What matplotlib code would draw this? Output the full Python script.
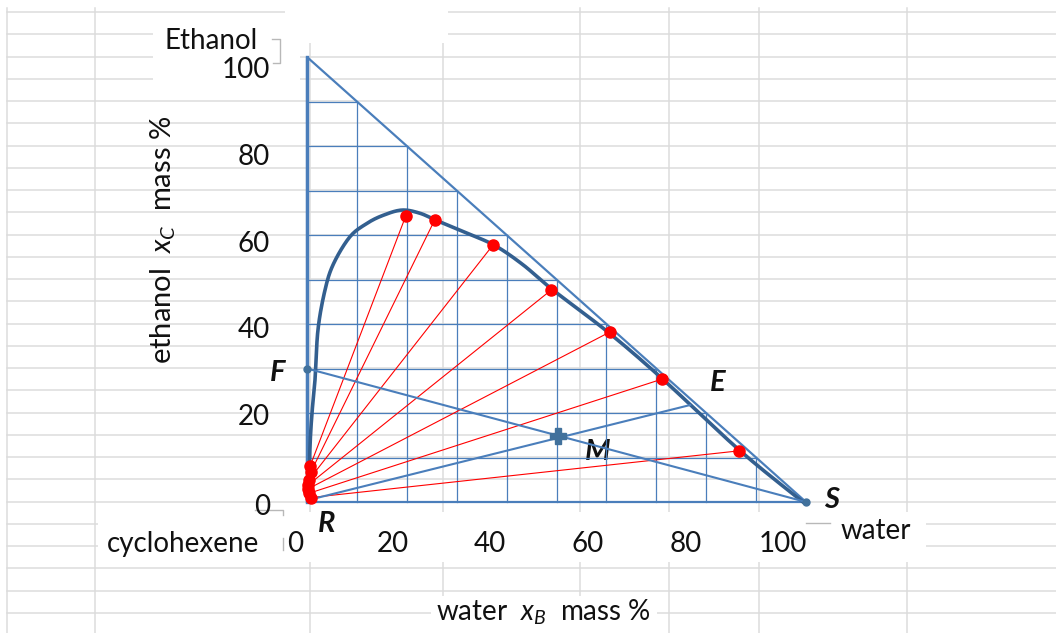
import matplotlib
matplotlib.use("Agg")
import matplotlib.pyplot as plt
import numpy as np
from matplotlib.patches import Rectangle

plt.rcParams['font.family'] = ['Lato', 'DejaVu Sans']
plt.rcParams['mathtext.fontset'] = 'custom'
plt.rcParams['mathtext.rm'] = 'Lato'
plt.rcParams['mathtext.it'] = 'Lato:italic'

# ---------------- data (mass %) ----------------
# binodal curve: x = water, y = ethanol
binodal_x = [0.3, 0.4, 0.6, 1.0, 1.6, 2.2, 3.6, 5.3, 8.6, 12.0, 15.2, 19.0,
             22.6, 26.1, 32.1, 37.7, 43.3, 49.1, 60.3, 71.3, 86.8, 99.4]
binodal_y = [0.8, 2.0, 12.4, 20.0, 27.4, 38.7, 47.6, 53.5, 59.6, 62.6, 64.4, 65.6,
             64.9, 63.2, 60.4, 57.6, 53.3, 47.8, 38.2, 27.6, 11.5, 0.0]

# tie lines: extract-phase end (E) and raffinate-phase end (R)
tie_ext_x = [19.8, 25.6, 37.3, 48.9, 60.7, 71.1, 86.6]
tie_ext_y = [64.3, 63.4, 57.8, 47.6, 38.2, 27.6, 11.5]
tie_raf_x = [0.6, 0.8, 0.4, 0.2, 0.3, 0.5, 0.8]
tie_raf_y = [8.0, 6.8, 5.0, 3.8, 3.0, 2.0, 1.0]

# operating points
F_pt = (0.0, 30.0)
S_pt = (100.0, 0.0)
M_pt = (50.3, 14.8)
R_pt = (0.5, 0.5)
E_pt = (76.8, 21.8)

tick_values = [0, 20, 40, 60, 80, 100]
tick_labels = ['0', '20', '40', '60', '80', '100']
grid_values = [10, 20, 30, 40, 50, 60, 70, 80, 90]


def smooth(xs, ys, n=12):
    """Catmull-Rom rendering of a polyline (drawing only, like Excel's smoothed line)."""
    p = np.column_stack([xs, ys]).astype(float)
    p = np.vstack([p[0], p, p[-1]])
    out = []
    t = np.linspace(0, 1, n, endpoint=False)[:, None]
    for i in range(1, len(p) - 2):
        p0, p1, p2, p3 = p[i - 1], p[i], p[i + 1], p[i + 2]
        seg = 0.5 * ((2 * p1) + (-p0 + p2) * t + (2 * p0 - 5 * p1 + 4 * p2 - p3) * t ** 2
                     + (-p0 + 3 * p1 - 3 * p2 + p3) * t ** 3)
        out.append(seg)
    out.append(p[-2][None, :])
    out = np.vstack(out)
    return out[:, 0], out[:, 1]


# ---------------- figure ----------------
W, H = 1056, 633
fig = plt.figure(figsize=(W / 100, H / 100), dpi=100)
fig.patch.set_facecolor('white')

# background "spreadsheet" axes in pixel coordinates
bg = fig.add_axes([0, 0, 1, 1])
bg.set_xlim(0, W)
bg.set_ylim(H, 0)
bg.axis('off')

gray = '#dcdcdc'
rows = [12 + 22.25 * k for k in range(28)]
cols = [7, 95, 310, 443, 580, 669, 759, 907]
for yr in rows:
    bg.plot([7, W], [yr, yr], color=gray, lw=1.1, zorder=1)
for xc in cols:
    bg.plot([xc, xc], [8, H], color=gray, lw=1.1, zorder=1)

# white text boxes hiding the sheet grid
for (x0, y0, w, h) in [(153, 22, 147, 68), (285, 0, 163, 43),
                       (98, 512, 828, 50), (431, 596, 226, 37)]:
    bg.add_patch(Rectangle((x0, y0), w, h, facecolor='white', edgecolor='none', zorder=2))

# small gray box-corner brackets
bc = '#b8b8b8'
bg.plot([272, 280, 280, 273], [39, 39, 63, 63], color=bc, lw=1.0, zorder=3)
bg.plot([255, 283, 283], [510, 510, 515], color=bc, lw=1.0, zorder=3)
bg.plot([283, 283], [538, 550], color=bc, lw=1.0, zorder=3)
bg.plot([806, 830], [523, 523], color=bc, lw=1.0, zorder=3)

fs = 20
txt = '#111111'
bg.text(211, 41, 'Ethanol', fontsize=fs, ha='center', va='center', color=txt, zorder=4)
for v, lab in zip(tick_values, tick_labels):
    yy = 507 if v == 0 else 503.5 - 4.33 * v
    bg.text(270, yy, lab, fontsize=fs, ha='right', va='center', color=txt, zorder=4)
    bg.text(295 + 4.88 * v, 544, lab, fontsize=fs, ha='center', va='center', color=txt, zorder=4)
bg.text(259, 544, 'cyclohexene', fontsize=fs, ha='right', va='center', color=txt, zorder=4)
bg.text(876, 531, 'water', fontsize=fs, ha='center', va='center', color=txt, zorder=4)
bg.text(543, 612, 'water  $x_B$  mass %', fontsize=fs, ha='center', va='center', color=txt, zorder=4)
bg.text(163, 240, 'ethanol  $x_C$  mass %', fontsize=fs + 1, ha='center', va='center',
        rotation=90, color=txt, zorder=4)

# ---------------- ternary (right triangle) axes ----------------
ax = fig.add_axes([307 / W, (H - 502) / H, (806 - 307) / W, (502 - 57) / H])
ax.set_xlim(0, 100)
ax.set_ylim(0, 100)
ax.axis('off')
ax.patch.set_alpha(0)

blue = '#4a7ebb'
dark = '#335f8f'
red = '#ff0000'

# triangle frame
ax.plot([0, 0, 100, 0], [0, 100, 0, 0], color=blue, lw=1.6, clip_on=False, zorder=3)
ax.plot([0, 0], [0, 100], color=blue, lw=2.4, clip_on=False, zorder=3)
# inner grid
for g in grid_values:
    ax.plot([g, g], [0, 100 - g], color=blue, lw=0.9, clip_on=False, zorder=2)
    ax.plot([0, 100 - g], [g, g], color=blue, lw=0.9, clip_on=False, zorder=2)

# binodal curve
cx, cy = smooth(binodal_x, binodal_y)
ax.plot(cx, cy, color=dark, lw=2.6, clip_on=False, zorder=4, solid_joinstyle='round')

# tie lines
for xe, ye, xr, yr in zip(tie_ext_x, tie_ext_y, tie_raf_x, tie_raf_y):
    ax.plot([xr, xe], [yr, ye], color=red, lw=0.8, clip_on=False, zorder=5)
ax.plot(tie_ext_x, tie_ext_y, ls='none', marker='o', ms=8, color=red, clip_on=False, zorder=7)
ax.plot(tie_raf_x, tie_raf_y, ls='none', marker='o', ms=8, color=red, clip_on=False, zorder=7)

# mixing lines F-S and R-E
ax.plot([F_pt[0], S_pt[0]], [F_pt[1], S_pt[1]], color=blue, lw=1.5, clip_on=False, zorder=6)
ax.plot([R_pt[0], E_pt[0]], [R_pt[1], E_pt[1]], color=blue, lw=1.5, clip_on=False, zorder=6)
ax.plot([F_pt[0], S_pt[0]], [F_pt[1], S_pt[1]], ls='none', marker='o', ms=5,
        color='#41719c', clip_on=False, zorder=8)
ax.plot([M_pt[0]], [M_pt[1]], ls='none', marker='P', ms=12, color='#41719c',
        clip_on=False, zorder=8)

lab_kw = dict(fontsize=21, fontweight='bold', fontstyle='italic', color='#111111',
              ha='center', va='center', zorder=9)
bg.text(278, 373, 'F', **lab_kw)
bg.text(718, 383, 'E', **lab_kw)
bg.text(598, 452, 'M', **lab_kw)
bg.text(327, 524, 'R', **lab_kw)
bg.text(832, 500, 'S', **lab_kw)

fig.savefig('out.png', dpi=100, facecolor='white')
